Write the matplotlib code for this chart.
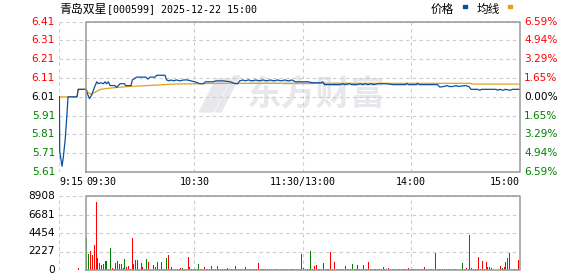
import matplotlib
matplotlib.use("Agg")
import matplotlib.pyplot as plt
from matplotlib.patches import Polygon

# ---------------------------------------------------------------------------
# Datos
# ---------------------------------------------------------------------------

# minutos de negociación desde 09:30 (negativo = subasta 9:15-9:30)
price_t = [-14.8, -14.6, -13.8, -13.3, -12.6, -11.6, -10.7, -10.0, -5.0, -4.4,
           0, 0.6, 1.9, 3.1, 4.6, 5.9, 6.8, 8, 9.6, 10.5, 11.4, 12.3, 13.3, 16,
           16.9, 18.8, 21.2, 21.9, 24.9, 25.6, 28, 33, 34.1, 35.4, 38.2, 39.1,
           43.7, 44.6, 46, 47, 48.5, 50, 52, 54, 56, 58, 60.3, 63, 65, 66, 70,
           72, 76, 80, 82.5, 84, 85, 87, 88, 90, 92, 94, 96, 98, 100, 102, 104,
           106, 108, 110, 112, 114, 116, 120, 123, 125, 130, 131, 132, 136, 141,
           142, 143, 146, 147, 150, 152, 153, 155, 156, 158, 159, 162, 166, 170,
           177, 177.5, 178.5, 183, 183.4, 184.5, 194.7, 195.8, 198, 200, 201,
           203, 205, 206, 210, 212, 213.1, 217, 218, 219, 227, 228, 229, 231,
           232, 235, 236, 240]
price_v = [6.01, 5.72, 5.67, 5.64, 5.69, 5.78, 5.90, 6.01, 6.01, 6.05,
           6.05, 6.03, 6.00, 6.02, 6.06, 6.09, 6.08, 6.085, 6.08, 6.09, 6.08,
           6.09, 6.07, 6.07, 6.06, 6.08, 6.08, 6.07, 6.07, 6.10, 6.115, 6.115,
           6.105, 6.115, 6.115, 6.125, 6.125, 6.10, 6.095, 6.10, 6.095, 6.10,
           6.095, 6.10, 6.10, 6.095, 6.09, 6.08, 6.08, 6.09, 6.09, 6.095, 6.095,
           6.09, 6.08, 6.08, 6.095, 6.10, 6.095, 6.10, 6.095, 6.10, 6.095, 6.10,
           6.095, 6.10, 6.095, 6.10, 6.095, 6.10, 6.095, 6.10, 6.09, 6.09, 6.09,
           6.085, 6.085, 6.09, 6.075, 6.075, 6.075, 6.08, 6.075, 6.08, 6.075,
           6.075, 6.08, 6.075, 6.08, 6.075, 6.08, 6.075, 6.08, 6.08, 6.075,
           6.075, 6.082, 6.075, 6.075, 6.082, 6.075, 6.075, 6.062, 6.065, 6.07,
           6.065, 6.065, 6.07, 6.065, 6.07, 6.065, 6.05, 6.05, 6.045, 6.05, 6.05,
           6.045, 6.05, 6.045, 6.05, 6.045, 6.05, 6.05]

avg_t = [-15, -5, -4.4, 0, 1, 2.5, 4, 6, 8, 12, 17, 25, 34, 43, 49, 73,
         213, 213.5, 240]
avg_v = [6.01, 6.01, 6.05, 6.05, 6.035, 6.025, 6.03, 6.04, 6.05, 6.055, 6.06,
         6.066, 6.07, 6.075, 6.078, 6.082, 6.082, 6.078, 6.078]

# volumen por minuto (k = 1..240), color R = sube, G = baja
vol = [
    3890, 1900, 2290, 1800, 2950, 8190, 1450, 840, 600, 720, 1080, 1080, 120, 2650, 240, 120, 840, 1080, 720, 720,
    240, 1320, 360, 480, 120, 3850, 720, 1200, 1200, 120, 840, 360, 120, 1320, 960, 120, 840, 600, 360, 960,
    120, 960, 120, 120, 1440, 1800, 120, 360, 120, 120, 120, 120, 240, 240, 120, 120, 1560, 360, 120, 120,
    120, 120, 720, 120, 120, 360, 120, 120, 120, 480, 120, 120, 480, 120, 120, 120, 120, 120, 240, 120,
    120, 120, 480, 120, 120, 120, 120, 120, 360, 120, 120, 120, 120, 120, 120, 840, 120, 120, 120, 120,
    120, 120, 120, 120, 120, 120, 120, 120, 120, 120, 120, 120, 120, 120, 120, 120, 120, 120, 120, 1920,
    240, 120, 120, 120, 2290, 120, 480, 600, 120, 120, 120, 840, 120, 120, 120, 2170, 120, 960, 120, 120,
    120, 120, 120, 480, 120, 120, 120, 720, 120, 120, 600, 120, 120, 600, 120, 120, 960, 120, 120, 120,
    120, 120, 120, 120, 360, 120, 120, 240, 120, 120, 120, 120, 120, 120, 120, 120, 120, 120, 240, 120,
    120, 120, 120, 120, 120, 120, 120, 360, 120, 120, 120, 120, 120, 2050, 120, 120, 120, 120, 120, 120,
    120, 120, 120, 120, 120, 120, 360, 120, 840, 120, 240, 120, 4210, 240, 120, 120, 120, 1560, 120, 1080,
    120, 960, 360, 360, 240, 0, 0, 0, 0, 480, 240, 360, 960, 1440, 2050, 120, 120, 120, 120, 1200,
]
vol_color = ("GGRRRRGRRRRGRGRRGRRR" "RGRRGRRRRGRRRGRRRRRR" "GRRRGRRRGGRRRGRRRRRR"
             "RRGRRRRRGGRGRRGRRRRR" "GRRRRGRRRRRGRGRRRRGR" "RRGRRRRGRRRRRGRRRRRG"
             "RRRRGRRRRRRGRRRRRRGR" "GGRRRGRGRGGRRRRRRRRR" "RRRRGRRRRRRRRRRRRRRR"
             "RRRRRRRRRRRRRRRRGRRR" "RRRRRRRRGRRRGGRRRRRR" "RRRGRRRRRRGRRRGGRRRR")
pre_vol_t = [-4.4]
pre_vol = [200]

price_ticks = [6.41, 6.31, 6.21, 6.11, 6.01, 5.91, 5.81, 5.71, 5.61]
price_labels = ["6.41", "6.31", "6.21", "6.11", "6.01", "5.91", "5.81", "5.71", "5.61"]
pct_labels = ["6.59%", "4.94%", "3.29%", "1.65%", "0.00%", "1.65%", "3.29%", "4.94%", "6.59%"]
vol_ticks = [8908, 6681, 4454, 2227, 0]
vol_labels = ["8908", "6681", "4454", "2227", "0"]
time_pos = [-15, 0, 60, 120, 180, 240]
time_labels = ["9:15", "09:30", "10:30", "11:30/13:00", "14:00", "15:00"]
time_ha = ["left", "left", "center", "center", "center", "right"]

RED = "#ff0000"
GREEN = "#008000"
BLUE = "#0b4fa0"
ORANGE = "#e3a21a"
BOX = "#999999"
GRID = "#cccccc"
WM = "#e8e8ec"

# ---------------------------------------------------------------------------
# Figura
# ---------------------------------------------------------------------------

W, H = 578, 276
fig = plt.figure(figsize=(W / 100, H / 100), dpi=100)
fig.patch.set_facecolor("white")


def _ax_px(x0, y0, x1, y1):
    return fig.add_axes([x0 / W, 1 - y1 / H, (x1 - x0) / W, (y1 - y0) / H])


ax = _ax_px(59, 21.7, 519.5, 172)
axv = _ax_px(59, 196, 519.5, 270)

for a in (ax, axv):
    a.set_facecolor("none")
    for s in a.spines.values():
        s.set_visible(False)
    a.set_xticks([])
    a.set_yticks([])
    a.set_xlim(-15, 240)

ax.set_ylim(5.61, 6.41)
axv.set_ylim(0, 8908)

dash = dict(color=GRID, lw=0.8, ls=(0, (3, 3)), zorder=1)


def _frame(a, ylevels, y0, y1):
    for yv in ylevels:
        a.plot([-15, 240], [yv, yv], **dash)
    for xv in (-15, 60, 120, 180):
        a.plot([xv, xv], [y0, y1], **dash)
    a.plot([0, 0, 240, 240, 0], [y0, y1, y1, y0, y0], color=BOX, lw=1.1,
           zorder=4, clip_on=False)


_frame(ax, price_ticks, 5.61, 6.41)
_frame(axv, vol_ticks, 0, 8908)

# marca de agua (logo + texto)
for pts in ([(0.305, 0.40), (0.335, 0.40), (0.372, 0.62), (0.342, 0.62)],
            [(0.340, 0.40), (0.352, 0.40), (0.392, 0.64), (0.380, 0.64)]):
    ax.add_patch(Polygon(pts, closed=True, transform=ax.transAxes,
                         color=WM, zorder=0))
ax.text(0.56, 0.52, "东方财富", transform=ax.transAxes, ha="center",
        va="center", fontsize=25, fontweight="bold", color=WM,
        family=["Noto Sans CJK SC"], zorder=0)

# líneas de precio y media
ax.plot(avg_t, avg_v, color=ORANGE, lw=0.9, zorder=3)
ax.plot(price_t, price_v, color=BLUE, lw=0.9, zorder=3)

# barras de volumen
ks = [k + 0.5 for k in range(len(vol))]
cols = [RED if c == "R" else GREEN for c in vol_color]
axv.bar(ks, vol, width=0.55, color=cols, zorder=3)
axv.bar(pre_vol_t, pre_vol, width=0.55, color=RED, zorder=3)

# etiquetas de eje
num_font = dict(family="DejaVu Sans", fontsize=7.6)
for i, (yv, lab) in enumerate(zip(price_ticks, price_labels)):
    c = RED if i < 4 else ("black" if i == 4 else GREEN)
    ax.annotate(lab, xy=(0, yv), xycoords=("axes fraction", "data"),
                xytext=(-4, 0), textcoords="offset pixels", ha="right",
                va="center", color=c, **num_font)
for i, (yv, lab) in enumerate(zip(price_ticks, pct_labels)):
    c = RED if i < 4 else ("black" if i == 4 else GREEN)
    ax.annotate(lab, xy=(1, yv), xycoords=("axes fraction", "data"),
                xytext=(4.5, 0), textcoords="offset pixels", ha="left",
                va="center", color=c, **num_font)
for yv, lab in zip(vol_ticks, vol_labels):
    axv.annotate(lab, xy=(0, yv), xycoords=("axes fraction", "data"),
                 xytext=(-4, 0), textcoords="offset pixels", ha="right",
                 va="center", color="black", **num_font)
for xv, lab, ha in zip(time_pos, time_labels, time_ha):
    ax.annotate(lab, xy=(xv, 0), xycoords=("data", "axes fraction"),
                xytext=(0, -10), textcoords="offset pixels", ha=ha,
                va="center", color="black", family="DejaVu Sans Mono",
                fontsize=7.2)

# título y leyenda
fig.text(59 / W, 1 - 9 / H, "青岛双星", ha="left", va="center", fontsize=8.6,
         family=["Noto Sans CJK SC"], color="black")
fig.text(107 / W, 1 - 9 / H, "[000599] 2025-12-22 15:00", ha="left",
         va="center", fontsize=7.2, family="DejaVu Sans Mono", color="black")
fig.text(431 / W, 1 - 9 / H, "价格", ha="left", va="center", fontsize=8.4,
         family=["Noto Sans CJK SC"], color="black")
fig.text(477 / W, 1 - 9 / H, "均线", ha="left", va="center", fontsize=8.4,
         family=["Noto Sans CJK SC"], color="black")
fig.patches.append(plt.Rectangle((462.5 / W, 1 - 8 / H), 4 / W, 3 / H,
                                 transform=fig.transFigure, color=BLUE))
fig.patches.append(plt.Rectangle((507.5 / W, 1 - 8 / H), 4 / W, 3 / H,
                                 transform=fig.transFigure, color=ORANGE))

fig.savefig("out.png", dpi=100, facecolor="white")
